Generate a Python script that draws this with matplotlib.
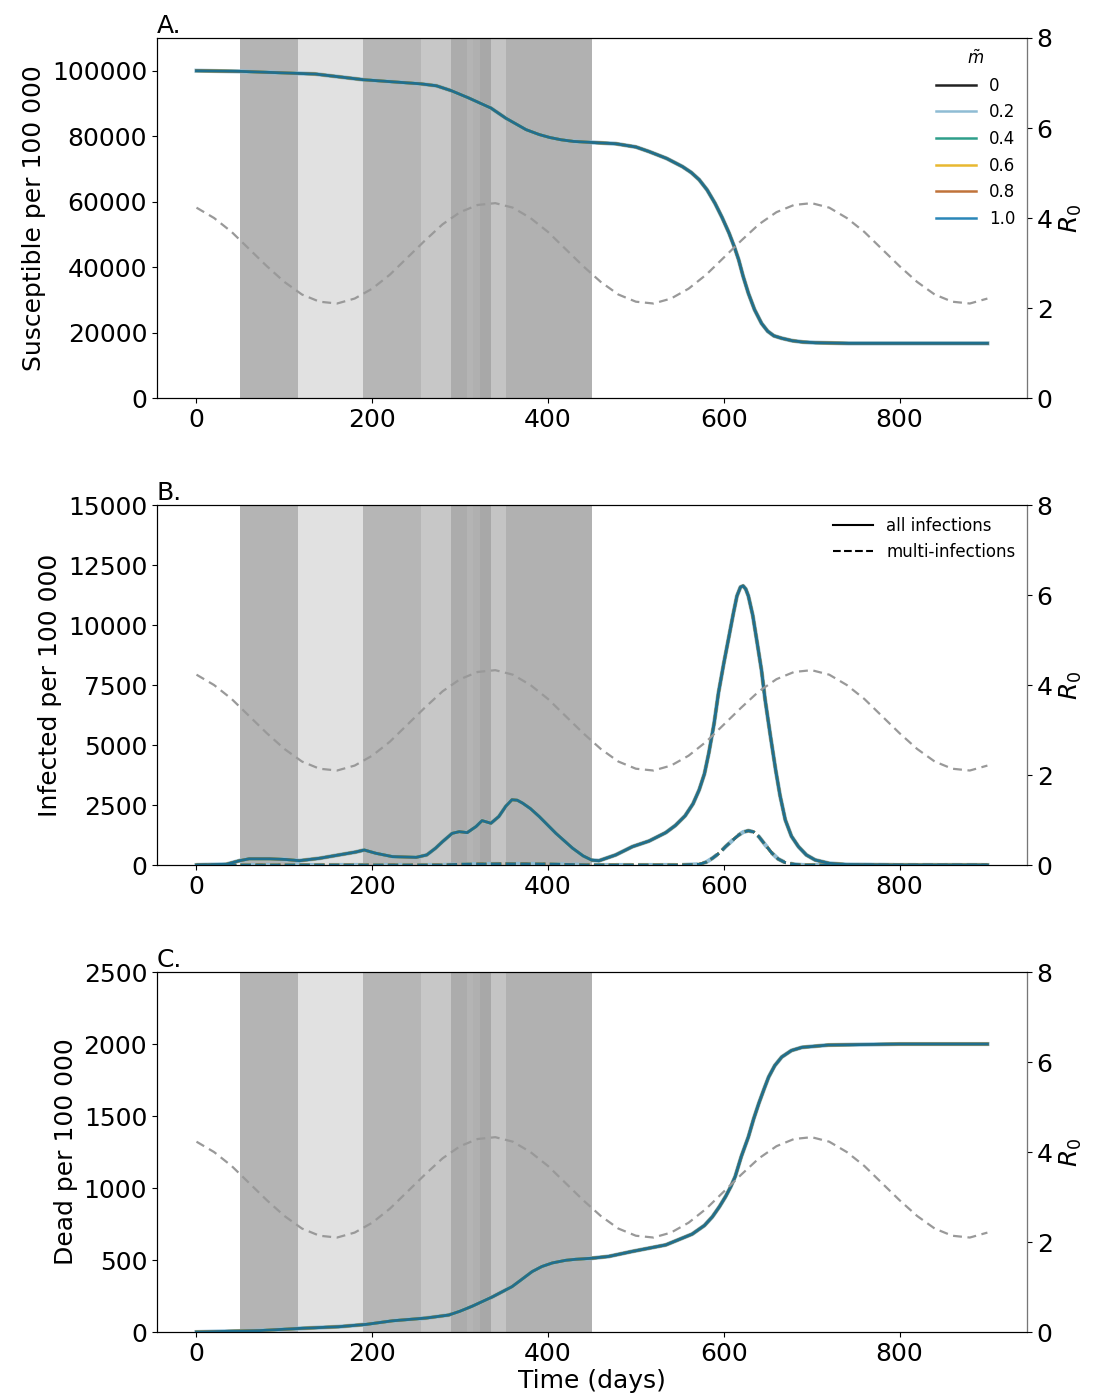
import matplotlib
matplotlib.use("Agg")
import matplotlib.pyplot as plt
from matplotlib.lines import Line2D

# restriction periods (days) and their grey level
band_start = [50, 115, 190, 255, 290, 308, 315, 323, 335, 352]
band_end = [115, 190, 255, 290, 308, 315, 323, 335, 352, 450]
band_grey = ["#b4b4b4", "#e1e1e1", "#b6b6b6", "#c7c7c7", "#acacac",
             "#b4b4b4", "#b0b0b0", "#a8a8a8", "#c4c4c4", "#b1b1b1"]

# seasonal R0
r0_days = [0, 20, 40, 60, 80, 100, 120, 140, 160, 180, 200, 220, 240, 260, 280,
           300, 320, 340, 360, 380, 400, 420, 440, 460, 480, 500, 520, 540, 560,
           580, 600, 620, 640, 660, 680, 700, 720, 740, 760, 780, 800, 820, 840,
           860, 880, 900]
r0_vals = [4.23, 4.00, 3.69, 3.31, 2.93, 2.58, 2.30, 2.14, 2.10, 2.21, 2.43, 2.74,
           3.12, 3.50, 3.86, 4.13, 4.29, 4.33, 4.23, 4.00, 3.69, 3.31, 2.93, 2.58,
           2.30, 2.14, 2.10, 2.21, 2.43, 2.74, 3.12, 3.50, 3.86, 4.13, 4.29, 4.33,
           4.23, 4.00, 3.69, 3.31, 2.93, 2.58, 2.30, 2.14, 2.10, 2.21]

# susceptible per 100 000
s_days = [0, 50, 114, 135, 190, 255, 273, 290, 310, 335, 352, 375, 390, 402, 415,
          429, 449, 477, 500, 515, 535, 553, 563, 572, 581, 590, 598, 606, 612,
          617, 622, 628, 635, 643, 650, 657, 666, 678, 690, 704, 742, 800, 900]
s_vals = [100000, 99800, 99200, 99000, 97250, 96000, 95400, 93900, 91650, 88600,
          85500, 82000, 80500, 79600, 78900, 78400, 78100, 77700, 76700, 75300,
          73200, 70700, 68900, 66700, 63600, 59500, 55200, 50400, 46200, 42200,
          37200, 32000, 27000, 22800, 20400, 19000, 18250, 17500, 17100, 16900,
          16700, 16700, 16700]

# infected per 100 000 (all infections)
i_days = [0, 34, 49, 60, 83, 102, 117, 140, 162, 181, 191, 204, 223, 250, 262,
          272, 280, 291, 299, 308, 318, 325, 335, 344, 352, 359, 365, 371, 380,
          390, 409, 428, 440, 450, 458, 477, 496, 515, 534, 545, 556, 565, 572,
          578, 583, 589, 594, 600, 606, 611, 615, 619, 622, 625, 628, 633, 638,
          643, 647, 653, 659, 664, 670, 677, 685, 694, 704, 720, 740, 800, 900]
i_vals = [0, 30, 180, 260, 260, 230, 180, 280, 420, 540, 625, 490, 350, 320, 420,
          700, 975, 1320, 1390, 1350, 1600, 1850, 1740, 2020, 2450, 2720, 2700,
          2580, 2350, 2020, 1320, 700, 380, 200, 180, 420, 765, 1000, 1350, 1650,
          2050, 2550, 3130, 3800, 4670, 5900, 7180, 8400, 9540, 10500, 11210,
          11580, 11630, 11500, 11210, 10400, 9260, 8100, 6900, 5400, 3970, 2900,
          1880, 1200, 765, 420, 210, 70, 20, 0, 0]

# infected per 100 000 (multi-infections)
mi_days = [0, 280, 300, 350, 400, 450, 550, 572, 580, 587, 595, 602, 610, 617,
           622, 628, 634, 640, 647, 655, 662, 670, 680, 690, 900]
mi_vals = [0, 0, 30, 50, 40, 0, 0, 30, 120, 280, 500, 765, 1030, 1250, 1370,
           1430, 1380, 1180, 850, 490, 250, 100, 30, 0, 0]

# dead per 100 000
d_days = [0, 72, 117, 162, 193, 223, 261, 287, 300, 314, 337, 359, 370, 382, 393,
          405, 420, 431, 449, 469, 496, 534, 564, 578, 587, 595, 602, 608, 613,
          620, 628, 634, 640, 646, 651, 658, 666, 677, 689, 719, 800, 900]
d_vals = [0, 10, 25, 37, 53, 78, 97, 118, 145, 180, 245, 315, 365, 420, 455, 480,
          498, 505, 512, 525, 560, 605, 680, 740, 800, 870, 940, 1010, 1080, 1220,
          1355, 1480, 1590, 1690, 1770, 1850, 1910, 1955, 1977, 1993, 2000, 2000]

m_labels = ["0", "0.2", "0.4", "0.6", "0.8", "1.0"]
m_colors = ["#222222", "#8fbcd4", "#2e9e8a", "#e8b830", "#c0733a", "#2a86b8"]
top_color = "#1f6f8e"

plt.rcParams["font.family"] = "DejaVu Sans"
plt.rcParams["font.size"] = 18

fig = plt.figure(figsize=(10.96, 13.97), dpi=100)
left, width = 0.1432, 0.7938
bottoms = [0.7151, 0.3808, 0.0465]
height = 0.2577

panels = [
    ("A.", "Susceptible per 100 000", (0, 110000), [0, 20000, 40000, 60000, 80000, 100000], s_days, s_vals),
    ("B.", "Infected per 100 000", (0, 15000), [0, 2500, 5000, 7500, 10000, 12500, 15000], i_days, i_vals),
    ("C.", "Dead per 100 000", (0, 2500), [0, 500, 1000, 1500, 2000, 2500], d_days, d_vals),
]

for k, (tag, ylab, ylim, yticks, xd, yd) in enumerate(panels):
    ax = fig.add_axes([left, bottoms[k], width, height])
    for a, b, g in zip(band_start, band_end, band_grey):
        ax.axvspan(a, b, color=g, lw=0, zorder=0)
    # all m values give the same curve; the last one drawn sits on top
    for i, col in enumerate(m_colors):
        c = top_color if i == len(m_colors) - 1 else col
        lw = 3.0 if col == "#8fbcd4" else 2.0
        ax.plot(xd, yd, color=c, lw=lw, zorder=3)
        if k == 1:
            ax.plot(mi_days, mi_vals, color=c, lw=lw, ls="--", zorder=3)
    ax.set_xlim(-45, 945)
    ax.set_ylim(*ylim)
    ax.set_yticks(yticks)
    ax.set_xticks([0, 200, 400, 600, 800])
    ax.set_ylabel(ylab)
    ax.set_title(tag, loc="left", fontsize=18, pad=2)
    if k == 2:
        ax.set_xlabel("Time (days)", labelpad=2)

    ax2 = ax.twinx()
    ax2.plot(r0_days, r0_vals, color="#999999", lw=1.6, ls=(0, (4, 2.5)), zorder=2)
    ax2.set_ylim(0, 8)
    ax2.set_yticks([0, 2, 4, 6, 8])
    ax2.set_ylabel("$R_0$", labelpad=4)
    ax2.spines["right"].set_color("#777777")

    if k == 0:
        handles = [Line2D([], [], color=c, lw=1.8) for c in m_colors]
        ax.legend(handles, m_labels, title=r"$\tilde{m}$", loc="upper right",
                  frameon=False, fontsize=12, title_fontsize=12,
                  handlelength=2.4, labelspacing=0.52, borderaxespad=0.3)
    if k == 1:
        handles = [Line2D([], [], color="black", lw=1.5),
                   Line2D([], [], color="black", lw=1.5, ls="--")]
        ax.legend(handles, ["all infections", "multi-infections"], loc="upper right",
                  frameon=False, fontsize=12, handlelength=2.4, labelspacing=0.5,
                  borderaxespad=0.3)

fig.savefig("out.png", dpi=100)
